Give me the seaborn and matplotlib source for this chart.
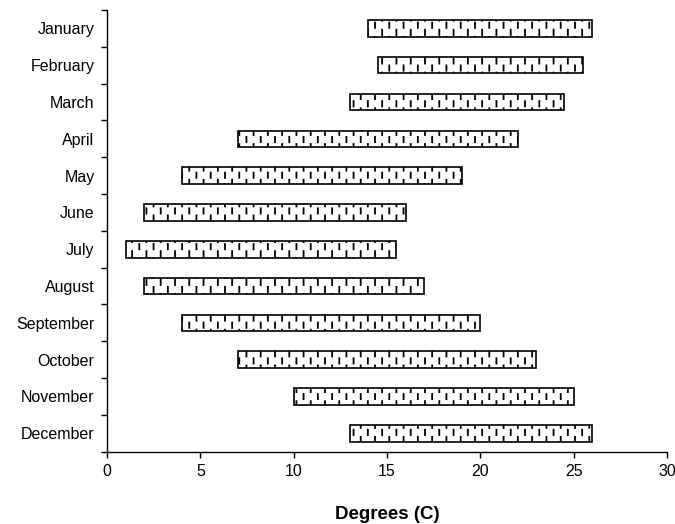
import warnings
import numpy as np
import pandas as pd
import matplotlib
matplotlib.use("Agg")
import matplotlib.pyplot as plt
import matplotlib.hatch as mhatch
from matplotlib.path import Path
from matplotlib.ticker import MultipleLocator, FixedLocator
import seaborn as sns

warnings.filterwarnings("ignore", message=".*hatch.*")

# Monthly temperature ranges (degrees C)
months = ["January", "February", "March", "April", "May", "June",
          "July", "August", "September", "October", "November", "December"]
low = [14, 14.5, 13, 7, 4, 2, 1, 2, 4, 7, 10, 13]
high = [26, 25.5, 24.5, 22, 19, 16, 15.5, 17, 20, 23, 25, 26]


class StaggeredDashes(mhatch.HatchPatternBase):
    """Short vertical dashes in a staggered brick layout, selected with '!'."""

    def __init__(self, hatch, density):
        self.num_cells = int(hatch.count('!') * density * 7 / 6)
        self.num_vertices = 4 * self.num_cells * self.num_cells

    def set_vertices_and_codes(self, vertices, codes):
        n = self.num_cells
        step = 1.0 / n
        k = 0
        for i in range(n):
            for j in range(n):
                y0 = j * step
                for x, ya, yb in (((i + 0.25) * step, y0 + 0.05 * step, y0 + 0.42 * step),
                                  ((i + 0.75) * step, y0 + 0.55 * step, y0 + 0.92 * step)):
                    vertices[k] = (x, ya)
                    codes[k] = Path.MOVETO
                    vertices[k + 1] = (x, yb)
                    codes[k + 1] = Path.LINETO
                    k += 2


mhatch._hatch_types.append(StaggeredDashes)

sns.set_theme(style="ticks")
plt.rcParams["font.family"] = ["Liberation Sans", "DejaVu Sans"]
plt.rcParams["hatch.linewidth"] = 1.3
plt.rcParams["hatch.color"] = "#222222"

df = pd.DataFrame({"month": months, "low": low, "high": high})
df["span"] = df["high"] - df["low"]

fig = plt.figure(figsize=(6.75, 5.24), dpi=100)
ax = fig.add_axes([107 / 675, 1 - 451.7 / 524, 560 / 675, 441.7 / 524])

sns.barplot(data=df, x="span", y="month", order=months, left=np.array(low),
            color="white", saturation=1, width=0.45, errorbar=None,
            edgecolor="black", linewidth=1.2, hatch="!", ax=ax)

ax.set_xlim(0, 30)
ax.set_ylim(len(months) - 0.5, -0.5)
ax.xaxis.set_major_locator(MultipleLocator(5))
ax.yaxis.set_minor_locator(FixedLocator(np.arange(-0.5, len(months), 1.0)))

for side in ("top", "right"):
    ax.spines[side].set_visible(False)
for side in ("left", "bottom"):
    ax.spines[side].set_color("black")
    ax.spines[side].set_linewidth(1.0)

ax.tick_params(axis="x", length=4, width=1.0, color="black", labelsize=11.5,
               pad=5, labelcolor="black")
ax.tick_params(axis="y", which="major", length=0, pad=9, labelsize=11.5,
               labelcolor="black")
ax.tick_params(axis="y", which="minor", length=4, width=1.0, color="black")

ax.set_ylabel("")
ax.set_xlabel("Degrees (C)", fontsize=13.5, fontweight="bold", labelpad=19,
              color="black")

fig.savefig("out.png", dpi=100)
